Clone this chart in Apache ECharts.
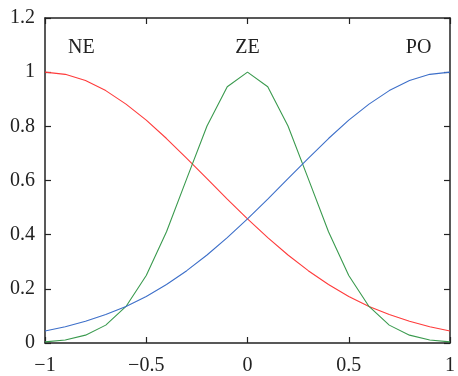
<!DOCTYPE html>
<html>
<head>
<meta charset="utf-8">
<script src="https://cdn.jsdelivr.net/npm/echarts@6/dist/echarts.min.js"></script>
<style>
  html, body { margin: 0; padding: 0; background: #fff; }
  #main { width: 458px; height: 376px; }
</style>
</head>
<body>
<div id="main"></div>
<script>
// x 取值
var xs = [-1, -0.9, -0.8, -0.7, -0.6, -0.5, -0.4, -0.3, -0.2, -0.1, 0,
          0.1, 0.2, 0.3, 0.4, 0.5, 0.6, 0.7, 0.8, 0.9, 1];
// 三条隶属度曲线
var ne = [1.000, 0.992, 0.969, 0.932, 0.882, 0.823, 0.755, 0.682, 0.607, 0.531, 0.458,
          0.389, 0.325, 0.267, 0.216, 0.172, 0.135, 0.105, 0.080, 0.060, 0.044];
var ze = [0.004, 0.011, 0.029, 0.066, 0.135, 0.249, 0.411, 0.607, 0.801, 0.946, 1.000,
          0.946, 0.801, 0.607, 0.411, 0.249, 0.135, 0.066, 0.029, 0.011, 0.004];
var po = [0.044, 0.060, 0.080, 0.105, 0.135, 0.172, 0.216, 0.267, 0.325, 0.389, 0.458,
          0.531, 0.607, 0.682, 0.755, 0.823, 0.882, 0.932, 0.969, 0.992, 1.000];
var names = ['NE', 'ZE', 'PO'];
var labelX = [-0.82, 0, 0.845];
var labelY = 1.09;

var myChart = echarts.init(document.getElementById('main'));

function pairs(ys) {
    return xs.map(function (x, i) { return [x, ys[i]]; });
}

var font = 'Liberation Serif, Times New Roman, serif';
var axisLine = { show: true, onZero: false, lineStyle: { color: '#222', width: 1.5 } };
var tick = { inside: true, length: 6, lineStyle: { color: '#222', width: 1.2 } };

function fmtX(v) {
    return String(v).replace('-', '\u2212');
}

function mkSeries(ys, color, idx) {
    return {
        name: names[idx],
        type: 'line',
        data: pairs(ys),
        showSymbol: false,
        symbol: 'none',
        lineStyle: { color: color, width: 1.1 },
        itemStyle: { color: color },
        animation: false,
        markPoint: {
            symbol: 'circle',
            symbolSize: 0,
            label: {
                show: true,
                position: 'inside',
                formatter: names[idx],
                color: '#222',
                fontFamily: font,
                fontSize: 20
            },
            data: [{ coord: [labelX[idx], labelY] }]
        }
    };
}

var option = {
    animation: false,
    grid: { left: 45, right: 5, top: 18, bottom: 32 },
    xAxis: [
        {
            type: 'value', min: -1, max: 1, interval: 0.5, position: 'bottom',
            axisLine: axisLine, axisTick: tick,
            axisLabel: { margin: 13, color: '#222', fontFamily: font, fontSize: 20, formatter: fmtX },
            splitLine: { show: false }
        },
        {
            type: 'value', min: -1, max: 1, interval: 0.5, position: 'top',
            axisLine: axisLine, axisTick: tick,
            axisLabel: { show: false },
            splitLine: { show: false }
        }
    ],
    yAxis: [
        {
            type: 'value', min: 0, max: 1.2, interval: 0.2, position: 'left',
            axisLine: axisLine, axisTick: tick,
            axisLabel: { margin: 10, color: '#222', fontFamily: font, fontSize: 20 },
            splitLine: { show: false }
        },
        {
            type: 'value', min: 0, max: 1.2, interval: 0.2, position: 'right',
            axisLine: axisLine, axisTick: tick,
            axisLabel: { show: false },
            splitLine: { show: false }
        }
    ],
    series: [
        mkSeries(ne, '#ff3b3b', 0),
        mkSeries(ze, '#3a9a4e', 1),
        mkSeries(po, '#3d6fc9', 2)
    ]
};

myChart.setOption(option);
</script>
</body>
</html>
